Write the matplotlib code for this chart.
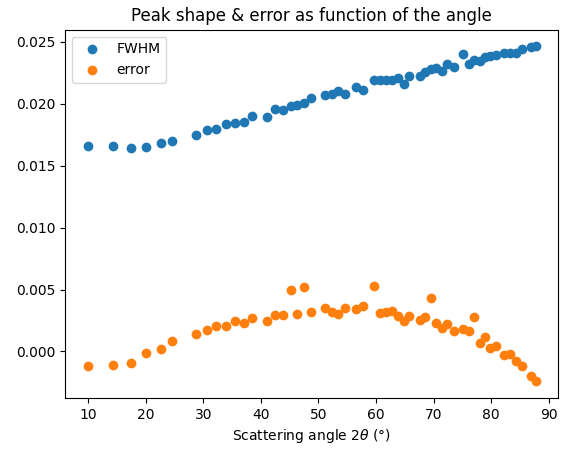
import matplotlib
matplotlib.use("Agg")
import matplotlib.pyplot as plt

angle = [9.9,14.3,17.5,20.1,22.7,24.6,28.8,30.6,32.2,33.9,35.5,37.0,38.4,41.1,42.5,43.9,45.2,46.3,47.5,48.7,
         51.1,52.3,53.4,54.6,56.5,57.8,59.6,60.7,61.8,62.7,63.9,64.8,65.7,67.6,68.5,69.5,70.5,71.5,72.4,73.5,
         75.1,76.2,77.1,78.0,78.9,79.8,80.8,82.3,83.3,84.3,85.4,86.9,87.8]
fwhm = [0.01659,0.01659,0.01640,0.01651,0.01683,0.01704,0.01752,0.01785,0.01796,0.01836,0.01849,0.01857,0.01901,
        0.01893,0.01957,0.01954,0.01981,0.01989,0.02008,0.02048,0.02075,0.02083,0.02107,0.02083,0.02137,0.02115,
        0.02196,0.02196,0.02196,0.02196,0.02210,0.02164,0.02223,0.02228,0.02255,0.02282,0.02290,0.02264,0.02325,
        0.02301,0.02403,0.02323,0.02357,0.02344,0.02379,0.02390,0.02398,0.02411,0.02411,0.02411,0.02446,0.02460,0.02465]
error = [-0.00121,-0.00108,-0.00091,-0.00011,0.00022,0.00081,0.00143,0.00175,0.00207,0.00207,0.00248,0.00231,0.00274,
         0.00242,0.00296,0.00296,0.00498,0.00306,0.00522,0.00315,0.00347,0.00315,0.00301,0.00347,0.00339,0.00363,
         0.00530,0.00312,0.00320,0.00323,0.00288,0.00242,0.00288,0.00256,0.00280,0.00435,0.00226,0.00188,0.00220,
         0.00161,0.00185,0.00167,0.00282,0.00070,0.00113,0.00027,0.00046,-0.00027,-0.00022,-0.00081,-0.00115,-0.00196,-0.00242]

fig, ax = plt.subplots(figsize=(5.68, 4.55), dpi=100)
ax.scatter(angle, fwhm, label="FWHM")
ax.scatter(angle, error, label="error")
ax.set_xlabel(r"Scattering angle 2$\theta$ ($\degree$)")
ax.set_title("Peak shape & error as function of the angle")
ax.legend(loc="upper left")
fig.subplots_adjust(left=0.115, right=0.983, top=0.935, bottom=0.125)
fig.savefig("out.png")
